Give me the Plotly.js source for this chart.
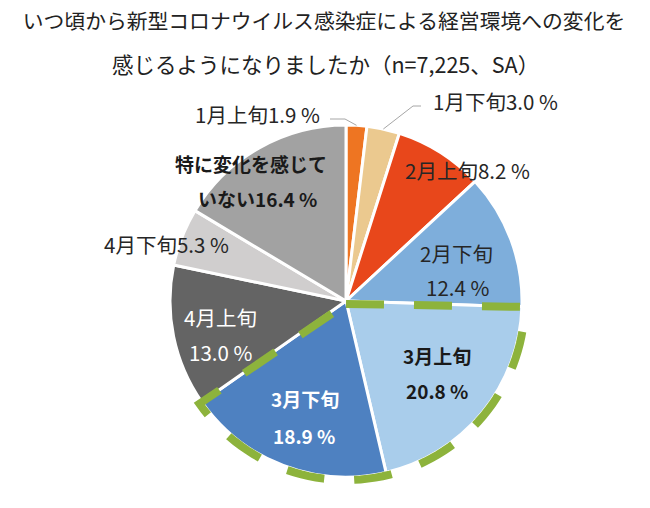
<!DOCTYPE html>
<html>
<head>
<meta charset="utf-8">
<script src="https://cdn.plot.ly/plotly-3.0.1.min.js"></script>
<style>html,body{margin:0;padding:0;background:#fff;}#chart{width:650px;height:508px;}</style>
</head>
<body>
<div id="chart"></div>
<script>
// ---- data ----
const titleLine1 = 'いつ頃から新型コロナウイルス感染症による経営環境への変化を';
const titleLine2 = '感じるようになりましたか（n=7,225、SA）';
const labels = ['1月上旬', '1月下旬', '2月上旬', '2月下旬', '3月上旬', '3月下旬', '4月上旬', '4月下旬', '特に変化を感じていない'];
const values = [1.9, 3.0, 8.2, 12.4, 20.8, 18.9, 13.0, 5.3, 16.4];
const colors = ['#EE7522', '#EBC98F', '#E8471B', '#7EAEDB', '#A9CDEB', '#4E81C1', '#646464', '#D0CECE', '#A2A2A2'];
const highlighted = ['3月上旬', '3月下旬'];

// ---- geometry / style (pixels) ----
const W = 650, H = 508;
const CX = 346, CY = 301, R = 176;
const X = px => px / W;
const Y = py => 1 - py / H;
const FONT = '"Noto Sans CJK JP", "Noto Sans", sans-serif';

// label placement per slice: line centres in px, split rule, style
const labelStyle = [
  {pos: [[257, 114]], color: '#262626'},
  {pos: [[495, 101]], color: '#262626'},
  {pos: [[467, 170]], color: '#262626'},
  {pos: [[456, 253], [457, 287]], color: '#262626'},
  {pos: [[437, 355], [437, 390]], color: '#1a1a1a', bold: true},
  {pos: [[305, 398], [304, 435]], color: '#ffffff', bold: true},
  {pos: [[220, 317], [220, 352]], color: '#ffffff'},
  {pos: [[166, 244]], color: '#262626'},
  {pos: [[251, 163], [257, 198]], color: '#1a1a1a', bold: true, splitAt: 8}
];

const total = values.reduce((a, b) => a + b, 0);
const cum = [];
values.reduce((acc, v, i) => { cum[i] = acc; return acc + v; }, 0);
// angle (deg, clockwise from 12 o'clock) -> pixel point
const pt = (deg, r) => {
  const a = deg * Math.PI / 180;
  return [CX + r * Math.sin(a), CY - r * Math.cos(a)];
};
const fracToDeg = f => f / total * 360;

const annotations = [];
labels.forEach((lab, i) => {
  const st = labelStyle[i];
  const valTxt = values[i].toFixed(1) + ' %';
  const full = lab + valTxt;
  let lines;
  if (st.pos.length === 1) lines = [full];
  else if (st.splitAt) lines = [full.slice(0, st.splitAt), full.slice(st.splitAt)];
  else lines = [lab, valTxt];
  lines.forEach((t, k) => {
    annotations.push({
      text: st.bold ? '<b>' + t + '</b>' : t,
      x: X(st.pos[k][0]), y: Y(st.pos[k][1]), xref: 'paper', yref: 'paper',
      xanchor: 'center', yanchor: 'middle', showarrow: false,
      font: {family: FONT, size: st.bold ? 19 : 20.5, color: st.color}
    });
  });
});
annotations.push({
  text: titleLine2, x: X(325), y: Y(63), xref: 'paper', yref: 'paper',
  xanchor: 'center', yanchor: 'middle', showarrow: false,
  font: {family: FONT, size: 21.5, color: '#222222'}
});

// leader lines for the two small slices
const leaderElbows = {0: [[345, 119], [330, 119]], 1: [[413, 106], [421, 106]]};
const shapes = [];
Object.keys(leaderElbows).forEach(k => {
  const i = +k;
  const mid = fracToDeg(cum[i] + values[i] / 2);
  const p0 = pt(mid, R);
  const pts = [p0].concat(leaderElbows[k]);
  const path = pts.map((p, j) => (j ? 'L' : 'M') + X(p[0]) + ',' + Y(p[1])).join(' ');
  shapes.push({type: 'path', xref: 'paper', yref: 'paper', path: path,
    line: {color: '#A6A6A6', width: 1}});
});

// green dashed outline around the highlighted slices
const hi = highlighted.map(h => labels.indexOf(h));
const a0 = fracToDeg(cum[hi[0]]);
const a1 = fracToDeg(cum[hi[hi.length - 1]] + values[hi[hi.length - 1]]);
const ro = R + 3;
let outline = [[CX, CY + 3]];
const steps = 60;
for (let s = 0; s <= steps; s++) outline.push(pt(a0 + (a1 - a0) * s / steps, ro));
outline.push([CX, CY + 3]);
shapes.push({type: 'path', xref: 'paper', yref: 'paper',
  path: outline.map((p, j) => (j ? 'L' : 'M') + X(p[0]) + ',' + Y(p[1])).join(' '),
  line: {color: '#8DB33C', width: 8, dash: '38px,30px'}});

const trace = {
  type: 'pie', labels: labels, values: values, sort: false, direction: 'clockwise',
  rotation: 0, textinfo: 'none', hoverinfo: 'label+percent',
  marker: {colors: colors, line: {color: '#ffffff', width: 3}},
  domain: {x: [X(CX - R), X(CX + R)], y: [Y(CY + R), Y(CY - R)]},
  showlegend: false
};

const layout = {
  width: W, height: H,
  margin: {l: 0, r: 0, t: 0, b: 0},
  paper_bgcolor: '#ffffff',
  title: {text: titleLine1, x: X(324), xanchor: 'center', y: Y(22), yanchor: 'middle', yref: 'container',
    font: {family: FONT, size: 20.8, color: '#222222'}},
  annotations: annotations,
  shapes: shapes,
  showlegend: false
};

Plotly.newPlot('chart', [trace], layout, {displayModeBar: false, staticPlot: true});
</script>
</body>
</html>
